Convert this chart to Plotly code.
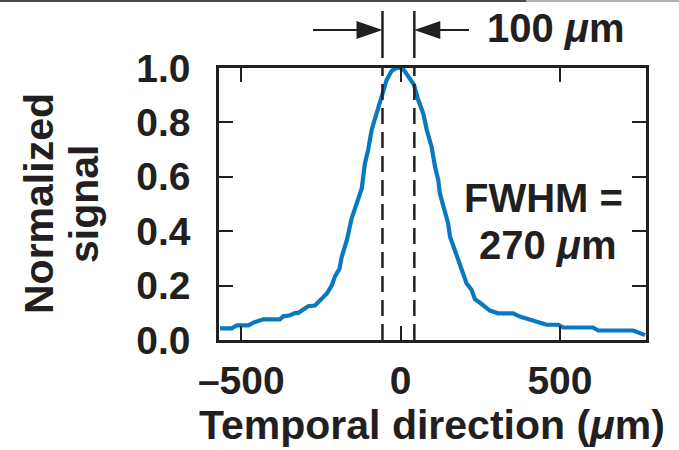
import plotly.graph_objects as go

# ---------------- data ----------------
position_um = [-567, -530, -514, -478, -462, -431, -379, -368, -347, -332, -322, -305, -290,
               -269, -253, -232, -216, -206, -192, -185, -169, -154, -138, -122, -112, -102,
               -91, -75, -65, -56, -44, -28, -12, 6, 24, 42, 55, 71, 82, 97, 108, 118, 123,
               139, 149, 155, 170, 181, 197, 207, 223, 233, 249, 265, 280, 306, 353, 374,
               406, 427, 458, 495, 510, 604, 620, 730, 751, 767]
signal = [0.043, 0.043, 0.054, 0.054, 0.064, 0.076, 0.076, 0.087, 0.091, 0.099, 0.099, 0.111,
          0.124, 0.127, 0.146, 0.170, 0.201, 0.234, 0.262, 0.305, 0.366, 0.446, 0.502, 0.557,
          0.649, 0.698, 0.772, 0.833, 0.870, 0.907, 0.956, 0.990, 1.0, 1.0, 0.969, 0.938,
          0.883, 0.833, 0.772, 0.711, 0.637, 0.588, 0.539, 0.478, 0.429, 0.380, 0.331, 0.294,
          0.251, 0.208, 0.184, 0.150, 0.137, 0.123, 0.108, 0.098, 0.098, 0.086, 0.074, 0.068,
          0.056, 0.056, 0.046, 0.046, 0.035, 0.035, 0.025, 0.018]

marker_lines = [-57, 43]          # 100 um window
x_tickvals = [-500, 0, 500]
x_ticktext = ["–500", "0", "500"]
y_tickvals = [0.0, 0.2, 0.4, 0.6, 0.8, 1.0]
y_ticktext = ["0.0", "0.2", "0.4", "0.6", "0.8", "1.0"]
x_range = [-570, 770]
y_range = [0, 1]

# ---------------- layout geometry ----------------
W, H = 679, 450
L, R, T, B = 219, 646, 68, 340
INK = "#231f20"
BLUE = "#0a78be"
FONT = "Liberation Sans"


def pxx(px):
    return (px - L) / (R - L)


def pyy(py):
    return (B - py) / (B - T)


def data2px(x):
    return L + (x - x_range[0]) / (x_range[1] - x_range[0]) * (R - L)


fig = go.Figure()
fig.add_trace(go.Scatter(x=position_um, y=signal, mode="lines",
                         line=dict(color=BLUE, width=4.2), showlegend=False,
                         hoverinfo="skip"))

shapes = []
# dashed lines inside plot + solid stubs above
for xv in marker_lines:
    shapes.append(dict(type="line", xref="x", yref="paper", x0=xv, x1=xv, y0=0, y1=1,
                       line=dict(color=INK, width=2.5, dash="16px,8px")))
    shapes.append(dict(type="line", xref="x", yref="paper", x0=xv, x1=xv,
                       y0=pyy(58), y1=pyy(11), line=dict(color=INK, width=2.5)))

# arrows pointing at the marker lines
ya = 30
xl = data2px(marker_lines[0])
xr = data2px(marker_lines[1])
head_len, head_half = 26, 9
# left arrow (points right)
shapes.append(dict(type="line", xref="paper", yref="paper", x0=pxx(313), x1=pxx(xl - head_len + 2),
                   y0=pyy(ya), y1=pyy(ya), line=dict(color=INK, width=2)))
shapes.append(dict(type="path", xref="paper", yref="paper",
                   path=f"M{pxx(xl)},{pyy(ya)} L{pxx(xl - head_len)},{pyy(ya - head_half)} "
                        f"L{pxx(xl - head_len)},{pyy(ya + head_half)} Z",
                   fillcolor=INK, line=dict(width=0)))
# right arrow (points left)
shapes.append(dict(type="line", xref="paper", yref="paper", x0=pxx(xr + head_len - 2), x1=pxx(469),
                   y0=pyy(ya), y1=pyy(ya), line=dict(color=INK, width=2)))
shapes.append(dict(type="path", xref="paper", yref="paper",
                   path=f"M{pxx(xr)},{pyy(ya)} L{pxx(xr + head_len)},{pyy(ya - head_half)} "
                        f"L{pxx(xr + head_len)},{pyy(ya + head_half)} Z",
                   fillcolor=INK, line=dict(width=0)))
# top border line of the image
shapes.append(dict(type="line", xref="paper", yref="paper", x0=pxx(0), x1=pxx(526),
                   y0=pyy(1), y1=pyy(1), line=dict(color="#4a4a4a", width=2)))
shapes.append(dict(type="line", xref="paper", yref="paper", x0=pxx(526), x1=pxx(679),
                   y0=pyy(1), y1=pyy(1), line=dict(color="#b0b0b0", width=2)))

tf = dict(family=FONT, size=40, color=INK, weight="bold")
annotations = [
    dict(text="100 <i>μ</i>m", x=pxx(556), y=pyy(28), xref="paper", yref="paper",
         showarrow=False, font=tf, xanchor="center", yanchor="middle"),
    dict(text="FWHM =", x=pxx(543), y=pyy(198), xref="paper", yref="paper",
         showarrow=False, font=tf, xanchor="center", yanchor="middle"),
    dict(text="270 <i>μ</i>m", x=pxx(548), y=pyy(245), xref="paper", yref="paper",
         showarrow=False, font=tf, xanchor="center", yanchor="middle"),
    dict(text="Normalized", x=pxx(39), y=0.5, xref="paper", yref="paper",
         showarrow=False, font=dict(family=FONT, size=41, color=INK, weight="bold"),
         textangle=-90, xanchor="center", yanchor="middle"),
    dict(text="signal", x=pxx(84), y=0.5, xref="paper", yref="paper",
         showarrow=False, font=dict(family=FONT, size=41, color=INK, weight="bold"),
         textangle=-90, xanchor="center", yanchor="middle"),
    dict(text="Temporal direction (<i>μ</i>m)", x=pxx(432), y=pyy(425), xref="paper", yref="paper",
         showarrow=False, font=dict(family=FONT, size=41, color=INK, weight="bold"),
         xanchor="center", yanchor="middle"),
]

axis_common = dict(showgrid=False, zeroline=False, showline=True, linecolor=INK, linewidth=2.5,
                   mirror="ticks", ticks="inside", ticklen=14, tickwidth=2, tickcolor=INK,
                   tickfont=dict(family=FONT, size=39, color=INK, weight="bold"))

fig.update_layout(
    width=W, height=H,
    margin=dict(l=L, r=W - R, t=T, b=H - B, pad=0),
    paper_bgcolor="white", plot_bgcolor="white",
    xaxis=dict(range=x_range, tickvals=x_tickvals, ticktext=x_ticktext,
               ticklabelstandoff=4, **axis_common),
    yaxis=dict(range=y_range, tickvals=y_tickvals, ticktext=y_ticktext,
               ticklabelstandoff=18, **axis_common),
    shapes=shapes, annotations=annotations, showlegend=False,
)

fig.write_html("out.html")
